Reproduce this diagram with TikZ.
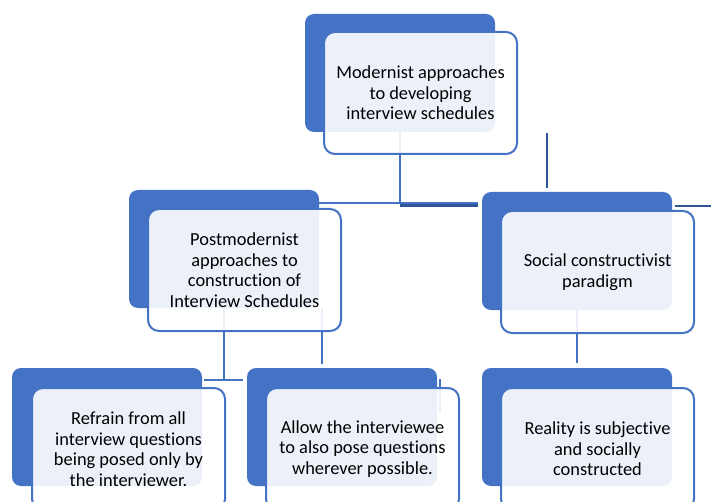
\documentclass[tikz,border=0pt]{standalone}
\usepackage{fontspec}
\setmainfont{Carlito}[Ligatures=NoCommon]
\usetikzlibrary{calc}

\definecolor{accent}{HTML}{4472C4}
\definecolor{accentdk}{HTML}{2F5597}

\tikzset{
  backbox/.style={rectangle, rounded corners=9pt, fill=accent, anchor=north west,
    minimum width=190pt, minimum height=118pt, inner sep=0pt, outer sep=0pt},
  textbox/.style={rectangle, rounded corners=11pt, draw=accent, line width=2pt,
    fill=white, fill opacity=0.9, text opacity=1, anchor=north west,
    minimum width=193pt, minimum height=122pt, inner sep=0pt, outer sep=0pt,
    align=center, font=\fontsize{18.4}{20.5}\selectfont},
  conn/.style={draw=accent, line width=2.5pt},
}

\begin{document}
\begin{tikzpicture}[x=1pt,y=-1pt]
\clip (0,0) rectangle (711,502);

% blue plates behind the text boxes
\node[backbox] (mod back) at (305,14) {};
\node[backbox] (pm back) at (129,190) {};
\node[backbox] (sc back) at (482,192) {};
\node[backbox] (bl back) at (12,368) {};
\node[backbox] (bm back) at (247,368) {};
\node[backbox] (br back) at (482,368) {};

% connectors (drawn under the text boxes)
\draw[conn] (mod back.south) -- (mod back.south |- 0,204);
\draw[conn] (pm back.east |- 0,203) -- ($(sc back.west |- 0,203)-(4,0)$);
\draw[conn,draw=accentdk] (mod back.south |- 0,205.5) -- ($(sc back.west |- 0,205.5)-(4,0)$);
\draw[conn,draw=accentdk] ($(sc back.north)-(30,59)$) -- ++(0,55);
\draw[conn,draw=accentdk] ($(sc back.north east)+(3,14)$) -- (711,206);
\draw[conn] (pm back.south) -- (pm back.south |- 0,380);
\draw[conn] ($(bl back.east |- 0,380)+(2,0)$) -- ($(bm back.west |- 0,380)-(4,0)$);
\draw[conn] ($(pm back.south east)+(3,0)$) -- ++(0,56);
\draw[conn] (sc back.south) -- ++(0,53);
\draw[conn] ($(bm back.north east)+(3,11)$) -- ++(0,33);

% text boxes
\node[textbox] (mod) at (324,32) {Modernist approaches\\to developing\\interview schedules};
\node[textbox] (pm) at (148,209) {Postmodernist\\approaches to\\construction of\\Interview Schedules};
\node[textbox] (sc) at (501,211) {Social constructivist\\paradigm};
\node[textbox] (bl) at (32,388) {Refrain from all\\interview questions\\being posed only by\\the interviewer.};
\node[textbox] (bm) at (266,388) {Allow the interviewee\\to also pose questions\\wherever possible.};
\node[textbox] (br) at (501,388) {Reality is subjective\\and socially\\constructed};
\end{tikzpicture}
\end{document}
